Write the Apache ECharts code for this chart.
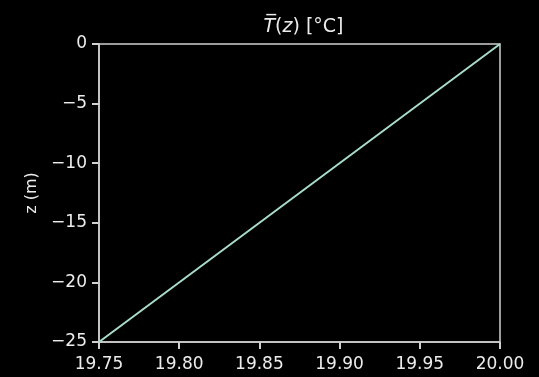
<!DOCTYPE html>
<html><head><meta charset="utf-8">
<script src="https://cdn.jsdelivr.net/npm/echarts@6/dist/echarts.min.js"></script>
<style>html,body{margin:0;padding:0;background:#000;}#c{width:539px;height:377px;}</style>
</head><body><div id="c"></div>
<script>
const depth = [-25, 0];
const temperature = [19.75, 20.00];
const xTicks = [19.75, 19.80, 19.85, 19.90, 19.95, 20.00];
const yTicks = [-25, -20, -15, -10, -5, 0];

const chart = echarts.init(document.getElementById('c'));
const axisColor = '#d0d0d0';
const textColor = '#ececec';
const font = 'DejaVu Sans';
chart.setOption({
  backgroundColor: '#000',
  animation: false,
  title: {
    text: '{it|T\u0305}{n|(}{it|z}{n|) [°C]}',
    left: 298.5, top: 13, textAlign: 'center',
    textStyle: {
      fontWeight: 'normal',
      rich: {
        it: {fontFamily: font, fontStyle: 'italic', fontWeight: 'normal', fontSize: 19, color: textColor},
        n: {fontFamily: font, fontWeight: 'normal', fontSize: 19, color: textColor}
      }
    }
  },
  grid: {left: 99, right: 39, top: 44, bottom: 35, show: true, borderColor: axisColor, borderWidth: 1.5,
    containLabel: false, outerBoundsMode: 'none'},
  xAxis: {
    type: 'value', min: 19.75, max: 20.00, interval: 0.05,
    axisLine: {show: true, onZero: false, lineStyle: {color: axisColor, width: 1.5}},
    axisTick: {show: true, inside: false, length: 7, lineStyle: {color: axisColor, width: 2}},
    splitLine: {show: false},
    axisLabel: {color: textColor, fontFamily: font, fontSize: 17, margin: 14,
      formatter: v => v.toFixed(2)}
  },
  yAxis: {
    type: 'value', min: -25, max: 0, interval: 5,
    name: 'z (m)', nameLocation: 'middle', nameGap: 56, nameRotate: 90,
    nameTextStyle: {color: textColor, fontFamily: font, fontSize: 16},
    axisLine: {show: true, onZero: false, lineStyle: {color: axisColor, width: 1.5}},
    axisTick: {show: true, inside: false, length: 7, lineStyle: {color: axisColor, width: 2}},
    splitLine: {show: false},
    axisLabel: {color: textColor, fontFamily: font, fontSize: 17, margin: 12,
      formatter: v => (v < 0 ? '\u2212' + Math.abs(v) : String(v))}
  },
  series: [{
    type: 'line', showSymbol: false, symbol: 'none',
    lineStyle: {color: '#a8dccb', width: 2},
    data: temperature.map((t, i) => [t, depth[i]])
  }]
});
</script></body></html>
